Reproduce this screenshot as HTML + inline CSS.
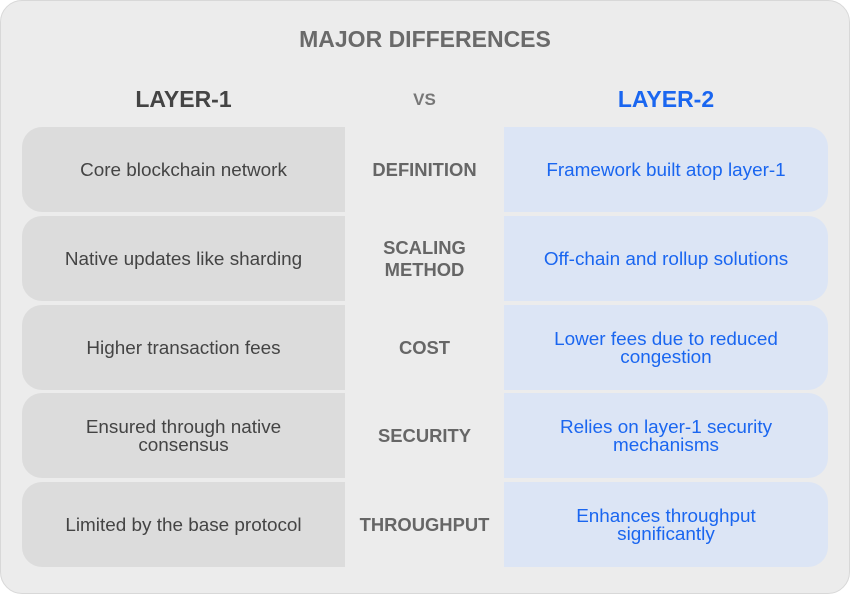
<!DOCTYPE html>
<html><head><style>
body{margin:0;width:850px;height:594px;background:#fff;font-family:"Liberation Sans",sans-serif;}
.card{position:absolute;left:0;top:0;width:848px;height:592px;background:#ececec;border:1px solid #d8d8d8;border-radius:22px;}
.t{position:absolute;text-align:center;}
.cell{position:absolute;display:flex;align-items:center;justify-content:center;text-align:center;font-size:18.9px;line-height:18px;box-sizing:border-box;}
.l{left:22px;width:323px;background:#dcdcdc;color:#444;border-radius:20px 0 0 20px;padding-top:3px;}
.m{left:345px;width:159px;color:#666;font-weight:bold;font-size:18.4px;background:#ececec;}
.r{left:504px;width:324px;background:#dce5f5;color:#1a66f0;border-radius:0 20px 20px 0;padding-top:3px;}
</style></head><body>
<div class="card"></div>
<div class="t" style="left:0;width:850px;top:26px;font-size:23px;font-weight:bold;color:#6a6a6a">MAJOR DIFFERENCES</div>
<div class="t" style="left:22px;width:323px;top:86px;font-size:23px;font-weight:bold;color:#444">LAYER-1</div>
<div class="t" style="left:345px;width:159px;top:90px;font-size:17px;font-weight:bold;color:#777">VS</div>
<div class="t" style="left:504px;width:324px;top:86px;font-size:23px;font-weight:bold;color:#1a66f0">LAYER-2</div>

<div class="cell l" style="top:127px;height:85px">Core blockchain network</div>
<div class="cell m" style="top:127px;height:85px">DEFINITION</div>
<div class="cell r" style="top:127px;height:85px">Framework built atop layer-1</div>

<div class="cell l" style="top:216px;height:85px">Native updates like sharding</div>
<div class="cell m" style="top:216px;height:85px;line-height:22px">SCALING<br>METHOD</div>
<div class="cell r" style="top:216px;height:85px">Off-chain and rollup solutions</div>

<div class="cell l" style="top:305px;height:85px">Higher transaction fees</div>
<div class="cell m" style="top:305px;height:85px">COST</div>
<div class="cell r" style="top:305px;height:85px">Lower fees due to reduced<br>congestion</div>

<div class="cell l" style="top:393px;height:85px">Ensured through native<br>consensus</div>
<div class="cell m" style="top:393px;height:85px">SECURITY</div>
<div class="cell r" style="top:393px;height:85px">Relies on layer-1 security<br>mechanisms</div>

<div class="cell l" style="top:482px;height:85px">Limited by the base protocol</div>
<div class="cell m" style="top:482px;height:85px">THROUGHPUT</div>
<div class="cell r" style="top:482px;height:85px">Enhances throughput<br>significantly</div>
</body></html>
